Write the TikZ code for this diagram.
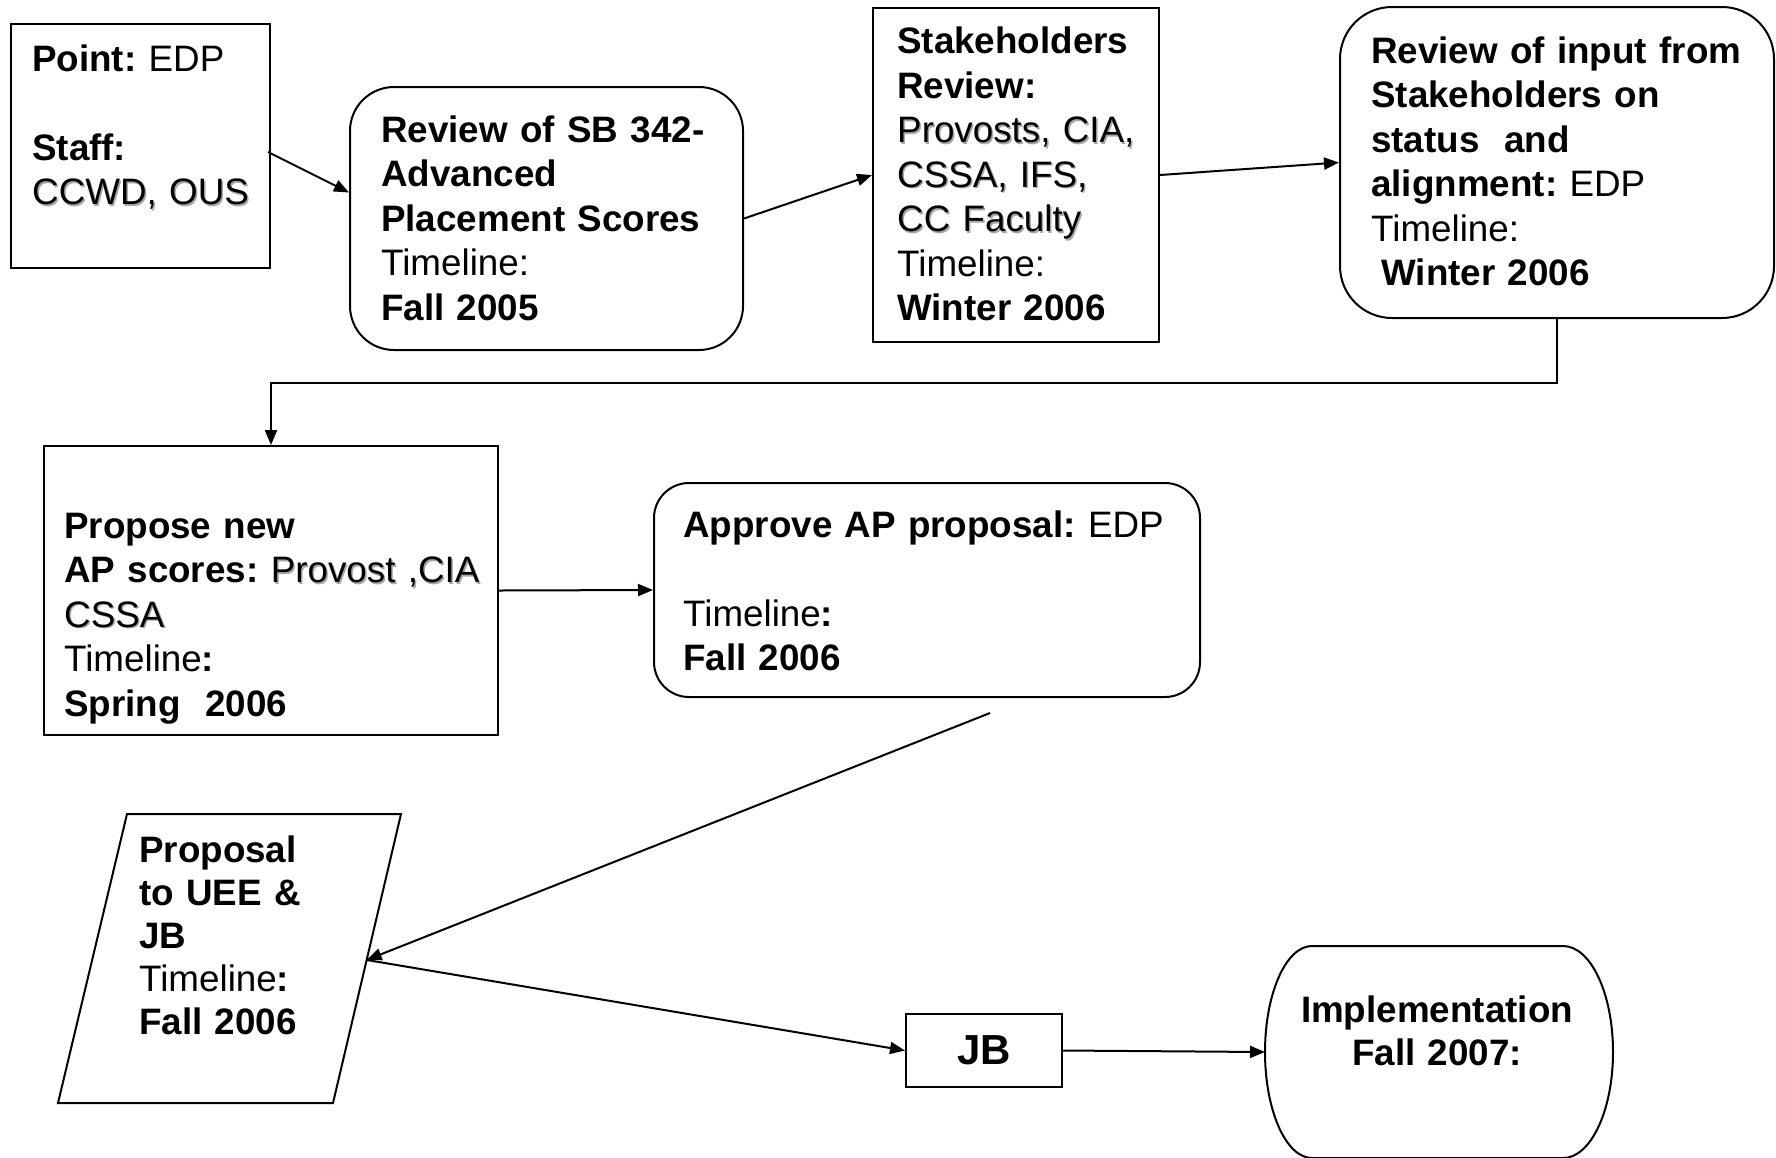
\documentclass[tikz,border=0pt]{standalone}
\usepackage{fontspec}
\setmainfont{Liberation Sans}
\usetikzlibrary{arrows.meta,calc}
% light drop shadow used on some of the names
\newcommand\shadowed[1]{\leavevmode\rlap{\kern1.5pt\raisebox{-1.5pt}{\textcolor{black!35}{#1}}}#1}

\begin{document}
\frenchspacing
\begin{tikzpicture}[x=1pt,y=-1pt,
  box/.style={draw, line width=2pt, inner sep=0pt},
  rbox/.style={box, rounded corners=#1},
  txt/.style={anchor=base west, inner sep=0pt, text width=#1, align=left,
    font=\fontsize{36.8}{44.5}\selectfont},
  link/.style={line width=2pt, -{Triangle[length=15pt,width=12pt]}},
  outline/.style={line width=2pt, line join=miter}
]
\useasboundingbox (0,0) rectangle (1776,1157);

% ---- process boxes ----
\node[box, minimum width=259pt, minimum height=244pt] (b1) at (140.5,146) {};
\node[rbox=44pt, minimum width=393pt, minimum height=263pt] (b2) at (546.5,218.5) {};
\node[box, minimum width=286pt, minimum height=334pt] (b3) at (1016,175) {};
\node[rbox=52pt, minimum width=434pt, minimum height=311pt] (b4) at (1557,162.5) {};
\node[box, minimum width=454pt, minimum height=289pt] (b5) at (271,590.5) {};
\node[rbox=35pt, minimum width=546pt, minimum height=214pt] (b6) at (927,590) {};
\node[box, minimum width=156pt, minimum height=73pt,
      font=\fontsize{42}{48}\selectfont\bfseries] (jb) at (984,1050.5) {JB};

% ---- parallelogram: proposal ----
\coordinate (p1) at (127,814);
\coordinate (p2) at (401,814);
\coordinate (p3) at (333,1103);
\coordinate (p4) at (58,1103);
\draw[outline] (p1) -- (p2) -- (p3) -- (p4) -- cycle;
\coordinate (par-e) at ($(p2)!0.505!(p3)$);

% ---- terminator: implementation ----
\draw[outline] (1312,946) -- (1563,946)
  arc[start angle=90, end angle=-90, x radius=50pt, y radius=106pt]
  -- (1312,1158)
  arc[start angle=270, end angle=90, x radius=47pt, y radius=106pt] -- cycle;
\coordinate (impl-w) at (1265,1052);

% ---- texts ----
\node[txt=250pt] (t1) at (32,71)
  {\textbf{Point:} EDP\\[44.5pt]\textbf{Staff:}\\\shadowed{CCWD, OUS}};
\node[txt=360pt] (t2) at (381,142)
  {\textbf{Review of SB 342-}\\\textbf{Advanced}\\\textbf{Placement Scores}\\Timeline:\\\textbf{Fall 2005}};
\node[txt=270pt] (t3) at (897,53.5)
  {\textbf{Stakeholders}\\\textbf{Review:}\\\shadowed{Provosts, CIA,}\\\shadowed{CSSA, IFS,}\\\shadowed{CC Faculty}\\Timeline:\\\textbf{Winter 2006}};
\node[txt=400pt] (t4) at (1371,63)
  {\textbf{Review of input from}\\\textbf{Stakeholders on}\\\textbf{status\ \ and}\\\textbf{alignment:} EDP\\Timeline:\\\hspace*{0.28em}\textbf{Winter 2006}};
\node[txt=440pt] (t5) at (64,538)
  {\textbf{Propose new}\\\textbf{AP scores:} \shadowed{Provost ,CIA}\\\shadowed{CSSA}\\Timeline\textbf{:}\\\textbf{Spring\ \ 2006}};
\node[txt=500pt] (t6) at (683,537)
  {\textbf{Approve AP proposal:} EDP\\[44.5pt]Timeline\textbf{:}\\\textbf{Fall 2006}};
\node[txt=260pt, font=\fontsize{36.8}{43}\selectfont] (t7) at (139,862)
  {\textbf{Proposal}\\\textbf{to UEE \&}\\\textbf{JB}\\Timeline\textbf{:}\\\textbf{Fall 2006}};
\node[anchor=base, inner sep=0pt, text width=320pt, align=center,
      font=\fontsize{36.8}{43.3}\selectfont\bfseries] (t8) at (1437,1022)
  {Implementation\\Fall 2007:};

% ---- connectors ----
\draw[link] ([xshift=-3pt,yshift=-6pt]b1.east) -- ([yshift=26pt]b2.west);
\draw[link] (b2.east) -- (b3.west);
\draw[link] (b3.east) -- (b4.west);
\draw[link] (b4.south) -- ++(0,64) -| (b5.north);
\draw[link] (b5.east) -- (b6.west);
\draw[link] ($(b6.south)+(63,15)$) -- (par-e);
\draw[link] (par-e) -- (jb.west);
\draw[link] (jb.east) -- (impl-w);
\end{tikzpicture}
\end{document}
